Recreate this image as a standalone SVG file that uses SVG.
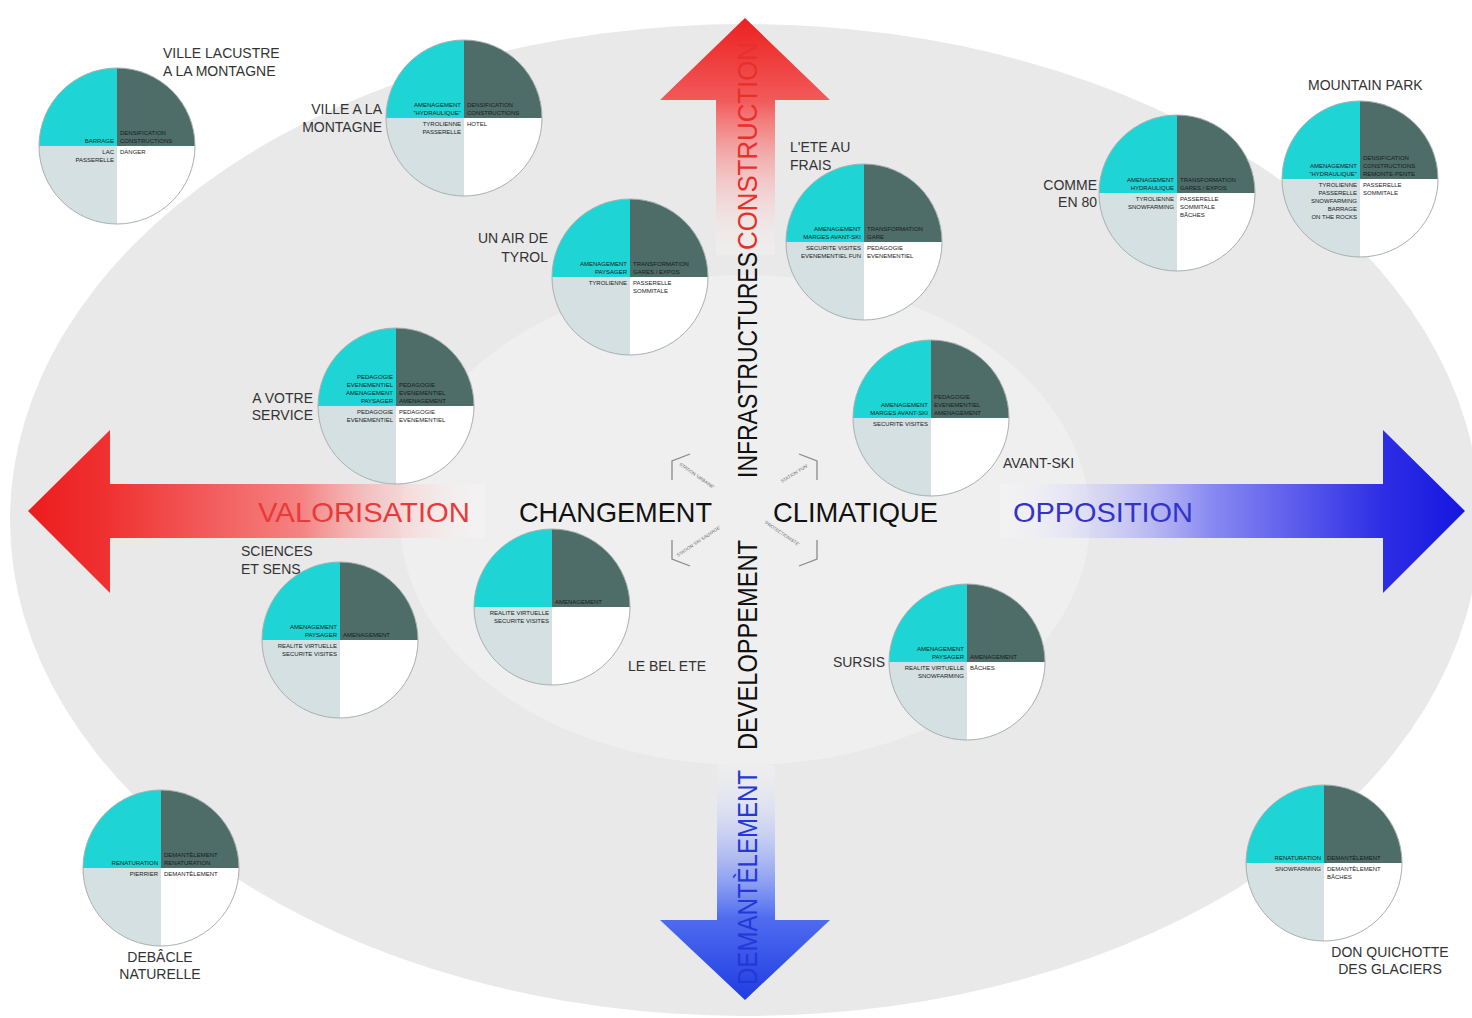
<svg xmlns="http://www.w3.org/2000/svg" xmlns:xlink="http://www.w3.org/1999/xlink" width="1472" height="1018" viewBox="0 0 1472 1018">
<style>
.q{font-family:"Liberation Sans",Arial,sans-serif;font-size:6px;fill:#1a1a1a}
.e{text-anchor:end}
.lbl{font-family:"Liberation Sans",Arial,sans-serif;font-size:14px;fill:#333}
.big{font-family:"Liberation Sans",Arial,sans-serif;font-size:28px}
.tiny{font-family:"Liberation Sans",Arial,sans-serif;font-size:4.5px;fill:#666}
.br{fill:none;stroke:#8a8a8a;stroke-width:1.3}
</style>
<defs>
<linearGradient id="gL" gradientUnits="userSpaceOnUse" x1="28" y1="0" x2="485" y2="0">
<stop offset="0" stop-color="#ec1c1c"/><stop offset="0.18" stop-color="#f03232"/><stop offset="0.6" stop-color="#f58383"/><stop offset="1" stop-color="#ffffff" stop-opacity="0.2"/>
</linearGradient>
<linearGradient id="gR" gradientUnits="userSpaceOnUse" x1="1000" y1="0" x2="1465" y2="0">
<stop offset="0" stop-color="#ffffff" stop-opacity="0.2"/><stop offset="0.45" stop-color="#8a8af2"/><stop offset="0.82" stop-color="#2e2ee6"/><stop offset="1" stop-color="#1616e0"/>
</linearGradient>
<linearGradient id="gU" gradientUnits="userSpaceOnUse" x1="0" y1="18" x2="0" y2="255">
<stop offset="0" stop-color="#ec2020"/><stop offset="0.35" stop-color="#f25a5a"/><stop offset="1" stop-color="#ffffff" stop-opacity="0.2"/>
</linearGradient>
<linearGradient id="gD" gradientUnits="userSpaceOnUse" x1="0" y1="765" x2="0" y2="1000">
<stop offset="0" stop-color="#ffffff" stop-opacity="0.2"/><stop offset="0.65" stop-color="#4f6cf0"/><stop offset="1" stop-color="#1f3ce2"/>
</linearGradient>
<g id="pie">
<path d="M0,0 L-78,0 A78,78 0 0 1 0,-78 Z" fill="#1fd4d4"/>
<path d="M0,0 L0,-78 A78,78 0 0 1 78,0 Z" fill="#4e6d68"/>
<path d="M0,0 L78,0 A78,78 0 0 1 0,78 Z" fill="#ffffff"/>
<path d="M0,0 L0,78 A78,78 0 0 1 -78,0 Z" fill="#d4e0e1"/>
<circle r="78" fill="none" stroke="#a8b0b0" stroke-width="1"/>
</g>
</defs>
<rect width="1472" height="1018" fill="#ffffff"/>
<g id="background">
<ellipse cx="745" cy="520" rx="735" ry="496" fill="#e9e9e9"/>
<ellipse cx="745" cy="520" rx="345" ry="245" fill="#efefef"/>
</g>
<g id="connectors">
<polygon points="28,511 110,430 110,484 485,484 485,538 110,538 110,593" fill="url(#gL)"/>
<polygon points="1465,511 1383,430 1383,484 1000,484 1000,538 1383,538 1383,593" fill="url(#gR)"/>
<polygon points="745,18 830,100 775,100 775,255 716,255 716,100 660,100" fill="url(#gU)"/>
<polygon points="745,1000 830,920 775,920 775,765 717,765 717,920 660,920" fill="url(#gD)"/>
<polyline class="br" points="690,454 672,461 672,480"/>
<polyline class="br" points="799,454 817,461 817,480"/>
<polyline class="br" points="672,540 672,559 690,566"/>
<polyline class="br" points="817,540 817,559 799,566"/>
<text class="tiny" transform="translate(679,465) rotate(35)">STATION 'URBAINE'</text>
<text class="tiny" transform="translate(782,483) rotate(-32)">STATION 'FUN'</text>
<text class="tiny" transform="translate(678,557) rotate(-34)">STATION 'SKI SAUVAGE'</text>
<text class="tiny" transform="translate(764,523) rotate(34)">'PROTECTIONISTE'</text>
</g>
<g id="axis-labels">
<text class="big" transform="translate(757,478) rotate(-90)" textLength="226" lengthAdjust="spacingAndGlyphs" fill="#111">INFRASTRUCTURES</text>
<text class="big" transform="translate(757,250) rotate(-90)" textLength="208" lengthAdjust="spacingAndGlyphs" fill="#e8302a">CONSTRUCTION</text>
<text class="big" transform="translate(757,750) rotate(-90)" textLength="210" lengthAdjust="spacingAndGlyphs" fill="#111">DEVELOPPEMENT</text>
<text class="big" transform="translate(757,985) rotate(-90)" textLength="215" lengthAdjust="spacingAndGlyphs" fill="#2438d8">DEMANTÈLEMENT</text>
<text class="big" x="258" y="522" textLength="212" lengthAdjust="spacingAndGlyphs" fill="#e83a3a">VALORISATION</text>
<text class="big" x="519" y="522" textLength="193" lengthAdjust="spacingAndGlyphs" fill="#111">CHANGEMENT</text>
<text class="big" x="773" y="522" textLength="165" lengthAdjust="spacingAndGlyphs" fill="#111">CLIMATIQUE</text>
<text class="big" x="1013" y="522" textLength="180" lengthAdjust="spacingAndGlyphs" fill="#3333cc">OPPOSITION</text>
</g>
<g id="ville-lacustre">
<use href="#pie" x="117" y="146"/>
<text class="lbl" x="163" y="58">VILLE LACUSTRE</text><text class="lbl" x="163" y="76">A LA MONTAGNE</text>
<text class="q e" x="114" y="143">BARRAGE</text>
<text class="q" x="120" y="135">DENSIFICATION</text><text class="q" x="120" y="143">CONSTRUCTIONS</text>
<text class="q e" x="114" y="154">LAC</text><text class="q e" x="114" y="162">PASSERELLE</text>
<text class="q" x="120" y="154">DANGER</text>
</g>
<g id="ville-montagne">
<use href="#pie" x="464" y="118"/>
<text class="lbl e" x="382" y="114">VILLE A LA</text><text class="lbl e" x="382" y="132">MONTAGNE</text>
<text class="q e" x="461" y="107">AMENAGEMENT</text><text class="q e" x="461" y="115">"HYDRAULIQUE"</text>
<text class="q" x="467" y="107">DENSIFICATION</text><text class="q" x="467" y="115">CONSTRUCTIONS</text>
<text class="q e" x="461" y="126">TYROLIENNE</text><text class="q e" x="461" y="134">PASSERELLE</text>
<text class="q" x="467" y="126">HOTEL</text>
</g>
<g id="air-tyrol">
<use href="#pie" x="630" y="277"/>
<text class="lbl e" x="548" y="243">UN AIR DE</text><text class="lbl e" x="548" y="262">TYROL</text>
<text class="q e" x="627" y="266">AMENAGEMENT</text><text class="q e" x="627" y="274">PAYSAGER</text>
<text class="q" x="633" y="266">TRANSFORMATION</text><text class="q" x="633" y="274">GARES / EXPOS</text>
<text class="q e" x="627" y="285">TYROLIENNE</text>
<text class="q" x="633" y="285">PASSERELLE</text><text class="q" x="633" y="293">SOMMITALE</text>
</g>
<g id="ete-frais">
<use href="#pie" x="864" y="242"/>
<text class="lbl" x="790" y="152">L'ETE AU</text><text class="lbl" x="790" y="170">FRAIS</text>
<text class="q e" x="861" y="231">AMENAGEMENT</text><text class="q e" x="861" y="239">MARGES AVANT-SKI</text>
<text class="q" x="867" y="231">TRANSFORMATION</text><text class="q" x="867" y="239">GARE</text>
<text class="q e" x="861" y="250">SECURITE VISITES</text><text class="q e" x="861" y="258">EVENEMENTIEL FUN</text>
<text class="q" x="867" y="250">PEDAGOGIE</text><text class="q" x="867" y="258">EVENEMENTIEL</text>
</g>
<g id="comme-80">
<use href="#pie" x="1177" y="193"/>
<text class="lbl e" x="1097" y="190">COMME</text><text class="lbl e" x="1097" y="207">EN 80</text>
<text class="q e" x="1174" y="182">AMENAGEMENT</text><text class="q e" x="1174" y="190">HYDRAULIQUE</text>
<text class="q" x="1180" y="182">TRANSFORMATION</text><text class="q" x="1180" y="190">GARES / EXPOS</text>
<text class="q e" x="1174" y="201">TYROLIENNE</text><text class="q e" x="1174" y="209">SNOWFARMING</text>
<text class="q" x="1180" y="201">PASSERELLE</text><text class="q" x="1180" y="209">SOMMITALE</text><text class="q" x="1180" y="217">BÂCHES</text>
</g>
<g id="mountain-park">
<use href="#pie" x="1360" y="179"/>
<text class="lbl" x="1308" y="90">MOUNTAIN PARK</text>
<text class="q e" x="1357" y="168">AMENAGEMENT</text><text class="q e" x="1357" y="176">"HYDRAULIQUE"</text>
<text class="q" x="1363" y="160">DENSIFICATION</text><text class="q" x="1363" y="168">CONSTRUCTIONS</text><text class="q" x="1363" y="176">REMONTE-PENTE</text>
<text class="q e" x="1357" y="187">TYROLIENNE</text><text class="q e" x="1357" y="195">PASSERELLE</text><text class="q e" x="1357" y="203">SNOWFARMING</text><text class="q e" x="1357" y="211">BARRAGE</text><text class="q e" x="1357" y="219">ON THE ROCKS</text>
<text class="q" x="1363" y="187">PASSERELLE</text><text class="q" x="1363" y="195">SOMMITALE</text>
</g>
<g id="votre-service">
<use href="#pie" x="396" y="406"/>
<text class="lbl e" x="313" y="403">A VOTRE</text><text class="lbl e" x="313" y="420">SERVICE</text>
<text class="q e" x="393" y="379">PEDAGOGIE</text><text class="q e" x="393" y="387">EVENEMENTIEL</text><text class="q e" x="393" y="395">AMENAGEMENT</text><text class="q e" x="393" y="403">PAYSAGER</text>
<text class="q" x="399" y="387">PEDAGOGIE</text><text class="q" x="399" y="395">EVENEMENTIEL</text><text class="q" x="399" y="403">AMENAGEMENT</text>
<text class="q e" x="393" y="414">PEDAGOGIE</text><text class="q e" x="393" y="422">EVENEMENTIEL</text>
<text class="q" x="399" y="414">PEDAGOGIE</text><text class="q" x="399" y="422">EVENEMENTIEL</text>
</g>
<g id="avant-ski">
<use href="#pie" x="931" y="418"/>
<text class="lbl" x="1003" y="468">AVANT-SKI</text>
<text class="q e" x="928" y="407">AMENAGEMENT</text><text class="q e" x="928" y="415">MARGES AVANT-SKI</text>
<text class="q" x="934" y="399">PEDAGOGIE</text><text class="q" x="934" y="407">EVENEMENTIEL</text><text class="q" x="934" y="415">AMENAGEMENT</text>
<text class="q e" x="928" y="426">SECURITE VISITES</text>
</g>
<g id="sciences-sens">
<use href="#pie" x="340" y="640"/>
<text class="lbl" x="241" y="556">SCIENCES</text><text class="lbl" x="241" y="574">ET SENS</text>
<text class="q e" x="337" y="629">AMENAGEMENT</text><text class="q e" x="337" y="637">PAYSAGER</text>
<text class="q" x="343" y="637">AMENAGEMENT</text>
<text class="q e" x="337" y="648">REALITE VIRTUELLE</text><text class="q e" x="337" y="656">SECURITE VISITES</text>
</g>
<g id="bel-ete">
<use href="#pie" x="552" y="607"/>
<text class="lbl" x="628" y="671">LE BEL ETE</text>
<text class="q" x="555" y="604">AMENAGEMENT</text>
<text class="q e" x="549" y="615">REALITE VIRTUELLE</text><text class="q e" x="549" y="623">SECURITE VISITES</text>
</g>
<g id="sursis">
<use href="#pie" x="967" y="662"/>
<text class="lbl e" x="885" y="667">SURSIS</text>
<text class="q e" x="964" y="651">AMENAGEMENT</text><text class="q e" x="964" y="659">PAYSAGER</text>
<text class="q" x="970" y="659">AMENAGEMENT</text>
<text class="q e" x="964" y="670">REALITE VIRTUELLE</text><text class="q e" x="964" y="678">SNOWFARMING</text>
<text class="q" x="970" y="670">BÂCHES</text>
</g>
<g id="debacle">
<use href="#pie" x="161" y="868"/>
<text class="lbl" x="160" y="962" text-anchor="middle">DEBÂCLE</text><text class="lbl" x="160" y="979" text-anchor="middle">NATURELLE</text>
<text class="q e" x="158" y="865">RENATURATION</text>
<text class="q" x="164" y="857">DEMANTÈLEMENT</text><text class="q" x="164" y="865">RENATURATION</text>
<text class="q e" x="158" y="876">PIERRIER</text>
<text class="q" x="164" y="876">DEMANTÈLEMENT</text>
</g>
<g id="don-quichotte">
<use href="#pie" x="1324" y="863"/>
<text class="lbl" x="1390" y="957" text-anchor="middle">DON QUICHOTTE</text><text class="lbl" x="1390" y="974" text-anchor="middle">DES GLACIERS</text>
<text class="q e" x="1321" y="860">RENATURATION</text>
<text class="q" x="1327" y="860">DEMANTÈLEMENT</text>
<text class="q e" x="1321" y="871">SNOWFARMING</text>
<text class="q" x="1327" y="871">DEMANTÈLEMENT</text><text class="q" x="1327" y="879">BÂCHES</text>
</g>
</svg>
